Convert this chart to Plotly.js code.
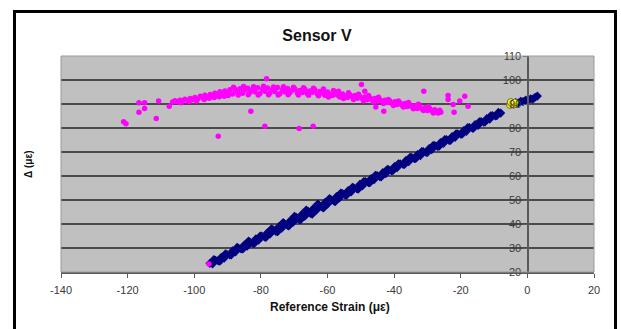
<!DOCTYPE html>
<html>
<head>
<meta charset="utf-8">
<script src="https://cdn.plot.ly/plotly-3.0.1.min.js"></script>
<style>
  html, body { margin: 0; padding: 0; background: #ffffff; }
  #wrap { position: relative; width: 621px; height: 329px; overflow: hidden; }
  #chart { position: absolute; left: 0; top: 0; width: 621px; height: 329px; }
  #frame { position: absolute; left: 13px; top: 10px; width: 604px; height: 400px;
           box-sizing: border-box; border: 3px solid #000; pointer-events: none; }
</style>
</head>
<body>
<div id="wrap">
  <div id="chart"></div>
  <div id="frame"></div>
</div>
<script>
// Sensor V: gauge delta vs. reference strain

// Series 1 (navy diamonds): main loading ramp
const rampX = [-95.3,-94.5,-93.6,-92.8,-91.9,-91.0,-90.2,-89.3,-88.5,-87.6,-86.7,-85.9,-85.0,-84.1,-83.3,-82.4,-81.5,-80.7,-79.8,-78.9,
  -78.1,-77.2,-76.3,-75.5,-74.6,-73.7,-72.9,-72.0,-71.1,-70.3,-69.4,-68.5,-67.7,-66.8,-65.9,-65.1,-64.2,-63.3,-62.5,-61.6,
  -60.7,-59.9,-59.0,-58.1,-57.3,-56.4,-55.5,-54.7,-53.8,-52.9,-52.1,-51.2,-50.3,-49.5,-48.6,-47.7,-46.9,-46.0,-45.1,-44.3,
  -43.4,-42.5,-41.7,-40.8,-39.9,-39.1,-38.2,-37.3,-36.5,-35.6,-34.7,-33.9,-33.0,-32.1,-31.3,-30.4,-29.5,-28.7,-27.8,-26.9,
  -26.1,-25.2,-24.3,-23.5,-22.6,-21.7,-20.9,-20.0,-19.1,-18.3,-17.4,-16.5,-15.7,-14.8,-13.9,-13.1,-12.2,-11.3,-10.5,-9.6,
  -8.7,-8.0,
  -94.1,-92.3,-90.6,-88.9,-87.1,-85.4,-83.7,-82.0,-80.2,-78.5,-76.8,-75.0,-73.3,-71.6,-69.9,-68.1,-66.4,-64.6,-62.9,-61.2,
  -59.4,-57.7,-56.0,-54.3,-52.5,-50.8,-49.1,-47.3,-45.6,-43.9,-42.1,-40.4,-38.7,-36.9,-35.2,-33.5,-31.7,-30.0,-28.3,-26.5,
  -24.8,-23.1,-21.4,-19.6,-17.9,-16.2,-14.4,-12.7,-11.0,-9.2,
  -4.2,-3.5,-2.8,-2.0,-1.3,-0.5,0.3,1.0,1.6,2.3,3.0];
const rampY = [23.6,23.4,24.9,24.6,26.1,25.8,27.3,27.1,28.8,28.4,29.9,29.6,31.2,30.8,32.5,31.9,33.8,33.2,35.0,34.6,
  36.3,35.9,37.6,36.9,38.9,38.3,40.1,39.4,41.5,40.7,42.8,41.9,44.0,43.2,45.4,44.4,46.5,45.8,47.7,47.0,
  49.0,48.4,50.2,49.6,51.4,50.9,52.7,52.1,53.9,53.4,55.1,54.7,56.5,55.9,57.7,57.2,58.9,58.5,60.2,59.7,
  61.4,61.0,62.7,62.2,63.9,63.5,65.1,64.8,66.4,66.0,67.7,67.2,68.9,68.5,70.2,69.8,71.4,71.0,72.7,72.3,
  73.9,73.6,75.2,74.8,76.4,76.1,77.6,77.4,78.9,78.6,80.2,79.9,81.4,81.1,82.7,82.4,83.9,83.7,85.2,85.0,
  86.5,86.2,
  25.2,24.5,27.6,27.1,30.3,29.6,32.9,31.9,35.0,34.4,38.0,36.8,40.6,39.2,43.2,41.8,45.8,44.1,48.3,46.7,
  50.6,49.3,52.9,52.0,55.3,54.5,57.7,57.2,60.3,59.6,62.7,62.2,65.1,64.8,67.8,67.3,70.2,69.8,72.7,72.4,
  75.2,74.8,77.6,77.4,80.2,79.9,82.6,82.5,85.1,85.1,
  90.0,90.6,90.4,91.1,91.0,91.6,91.8,92.2,92.0,92.8,93.3];

// Series 2 (magenta circles): unloading response
const arcX = [-106.5,-105.8,-105.0,-104.3,-103.5,-102.8,-102.0,-101.2,-100.5,-99.8,-99.0,-98.2,-97.5,-96.8,-96.0,-95.2,-94.5,-93.8,-93.0,-92.3,
  -91.5,-90.8,-90.0,-89.3,-88.5,-87.8,-87.0,-86.3,-85.5,-84.8,-84.0,-83.3,-82.5,-81.8,-81.0,-80.3,-79.5,-78.8,-78.0,-77.3,
  -76.5,-75.8,-75.0,-74.3,-73.5,-72.8,-72.0,-71.3,-70.5,-69.8,-69.0,-68.3,-67.5,-66.8,-66.0,-65.3,-64.5,-63.8,-63.0,-62.3,
  -61.5,-60.8,-60.0,-59.3,-58.5,-57.8,-57.0,-56.3,-55.5,-54.8,-54.0,-53.3,-52.5,-51.8,-51.0,-50.3,-49.5,-48.8,-48.0,-47.3,
  -46.5,-45.8,-45.0,-44.3,-43.5,-42.8,-42.0,-41.3,-40.5,-39.8,-39.0,-38.3,-37.5,-36.8,-36.0,-35.3,-34.5,-33.8,-33.0,-32.3,
  -31.5,-30.8,-30.0,-29.3,-28.5,-27.8,-27.0,-26.3,
  -104.0,-101.5,-99.3,-97.0,-95.5,-94.0,-92.5,-91.0,-89.8,-88.2,-86.8,-85.2,-83.8,-82.2,-80.8,-79.2,-77.7,-76.2,-74.8,-73.2,
  -71.8,-70.2,-68.7,-67.2,-65.7,-64.2,-62.7,-61.2,-59.7,-58.2,-56.7,-55.2,-53.7,-52.2,-50.7,-49.2,-47.7,-46.2,-44.7,-43.2,
  -41.7,-40.2,-38.7,-37.2,-35.7,-34.2,-32.7,-31.2,-29.7,-28.2,-26.8,-26.0,
  -121.2,-120.5,-116.6,-116.6,-114.9,-114.9,-111.4,-110.7,-107.5,-92.8,-83.0,-78.3,-78.8,-68.5,-64.3,-49.8,-48.8,-45.5,-43.1,-31.1,
  -23.8,-23.8,-22.3,-22.0,-20.3,-18.8,-17.8,-95.6];
const arcY = [90.8,91.4,90.9,91.6,91.2,92.0,91.5,92.3,91.8,92.7,92.1,93.2,92.6,93.6,92.9,94.0,93.3,94.5,93.6,95.1,
  93.9,95.4,94.3,95.9,94.2,96.1,94.9,96.4,94.5,95.8,96.6,94.8,96.0,95.1,96.8,94.4,96.2,95.3,96.7,94.6,
  96.0,95.2,96.9,94.3,95.9,95.0,96.5,94.7,95.7,96.3,94.5,95.6,94.8,96.1,94.3,95.4,94.9,95.9,94.2,95.2,
  94.6,93.6,95.0,94.1,93.5,94.7,93.8,92.9,94.2,93.3,92.7,93.9,92.9,93.5,92.4,93.1,92.2,92.9,91.8,92.6,
  91.6,92.3,91.2,91.9,90.9,91.6,90.6,91.2,90.1,90.9,89.8,90.5,89.4,90.2,89.0,89.7,88.6,89.3,88.1,88.9,
  87.8,88.4,87.3,88.0,86.9,87.6,86.8,87.4,
  90.5,91.0,91.3,91.9,92.4,92.7,93.0,93.2,93.5,97.0,93.8,97.3,93.9,97.2,93.7,97.4,93.9,97.1,93.8,97.2,
  93.9,97.0,93.7,96.8,93.6,96.6,93.4,96.2,92.9,95.6,95.3,92.3,94.7,91.9,94.1,91.4,93.5,90.8,92.8,90.2,
  91.9,89.4,91.3,88.8,90.6,88.0,89.9,87.3,88.9,86.3,86.3,86.6,
  82.6,81.8,86.6,90.5,90.5,88.1,84.0,91.2,89.1,76.6,87.0,100.5,80.75,79.8,80.75,98.1,95.3,88.8,87.0,95.3,
  93.5,91.9,89.8,86.6,91.2,93.25,89.1,23.3];

// Series 3 (yellow circles): hold readings near zero
const holdX = [-5.2,-4.6,-4.0,-5.0,-3.8];
const holdY = [89.6,90.3,89.8,90.8,90.6];

// Axis ticks
const xTicks = [-140,-120,-100,-80,-60,-40,-20,0,20];
const yTicks = [20,30,40,50,60,70,80,90,100,110];

const traces = [
  { x: rampX, y: rampY, type: 'scatter', mode: 'markers', name: 'Ramp',
    marker: { symbol: 'diamond', size: 7, color: '#000080', line: { width: 0 } } },
  { x: holdX, y: holdY, type: 'scatter', mode: 'markers', name: 'Hold',
    marker: { symbol: 'circle', size: 7, color: '#ffff00', line: { width: 1, color: '#6b6b2a' } } },
  { x: arcX, y: arcY, type: 'scatter', mode: 'markers', name: 'Return',
    marker: { symbol: 'circle', size: 5.5, color: '#ff00ff', line: { width: 0 } } }
];

const fam = 'Liberation Sans, Arial, sans-serif';
const tickFont = { family: fam, size: 11, color: '#3a3a3a' };
const boldFont = { family: fam, size: 10, color: '#111111', weight: 'bold' };

const layout = {
  width: 621, height: 329,
  margin: { l: 61, r: 27, t: 56, b: 57, pad: 0 },
  paper_bgcolor: 'rgba(0,0,0,0)',
  plot_bgcolor: '#c0c0c0',
  showlegend: false,
  title: { text: '<b>Sensor V</b>', x: 317 / 621, xref: 'container', xanchor: 'center',
           y: 1 - 35 / 329, yref: 'container', yanchor: 'middle',
           font: { family: fam, size: 16, color: '#111111' } },
  xaxis: {
    range: [-140, 20], tickvals: xTicks, ticktext: xTicks.map(String),
    showgrid: false, zeroline: false,
    showline: true, linecolor: '#5a5a5a', linewidth: 1.5,
    ticks: 'outside', ticklen: 4, tickcolor: '#5a5a5a', tickwidth: 1,
    ticklabelstandoff: 3,
    tickfont: tickFont
  },
  yaxis: {
    range: [20, 110], tickvals: yTicks, ticktext: yTicks.map(String),
    anchor: 'free', position: 140 / 160, side: 'left',
    showgrid: true, gridcolor: '#4a4a4a', gridwidth: 1.5,
    zeroline: false,
    showline: true, linecolor: '#5a5a5a', linewidth: 1.5,
    ticks: 'outside', ticklen: 4, tickcolor: '#5a5a5a', tickwidth: 1,
    tickfont: tickFont
  },
  shapes: [
    { type: 'rect', xref: 'paper', yref: 'paper', x0: 0, x1: 1, y0: 0, y1: 1,
      line: { color: '#9a9a9a', width: 1 }, layer: 'above' }
  ],
  annotations: [
    { text: '<b>Reference Strain (με)</b>', xref: 'paper', yref: 'paper',
      x: (330 - 61) / 533, y: (272.5 - 308) / 216.5, xanchor: 'center', yanchor: 'middle',
      showarrow: false, font: { family: fam, size: 12, color: '#111111', weight: 'bold' } },
    { text: '<b>Δ (με)</b>', xref: 'paper', yref: 'paper',
      x: (28 - 61) / 533, y: 0.5, xanchor: 'center', yanchor: 'middle', textangle: -90,
      showarrow: false, font: boldFont }
  ]
};

Plotly.newPlot('chart', traces, layout, { staticPlot: true, displayModeBar: false });
</script>
</body>
</html>
